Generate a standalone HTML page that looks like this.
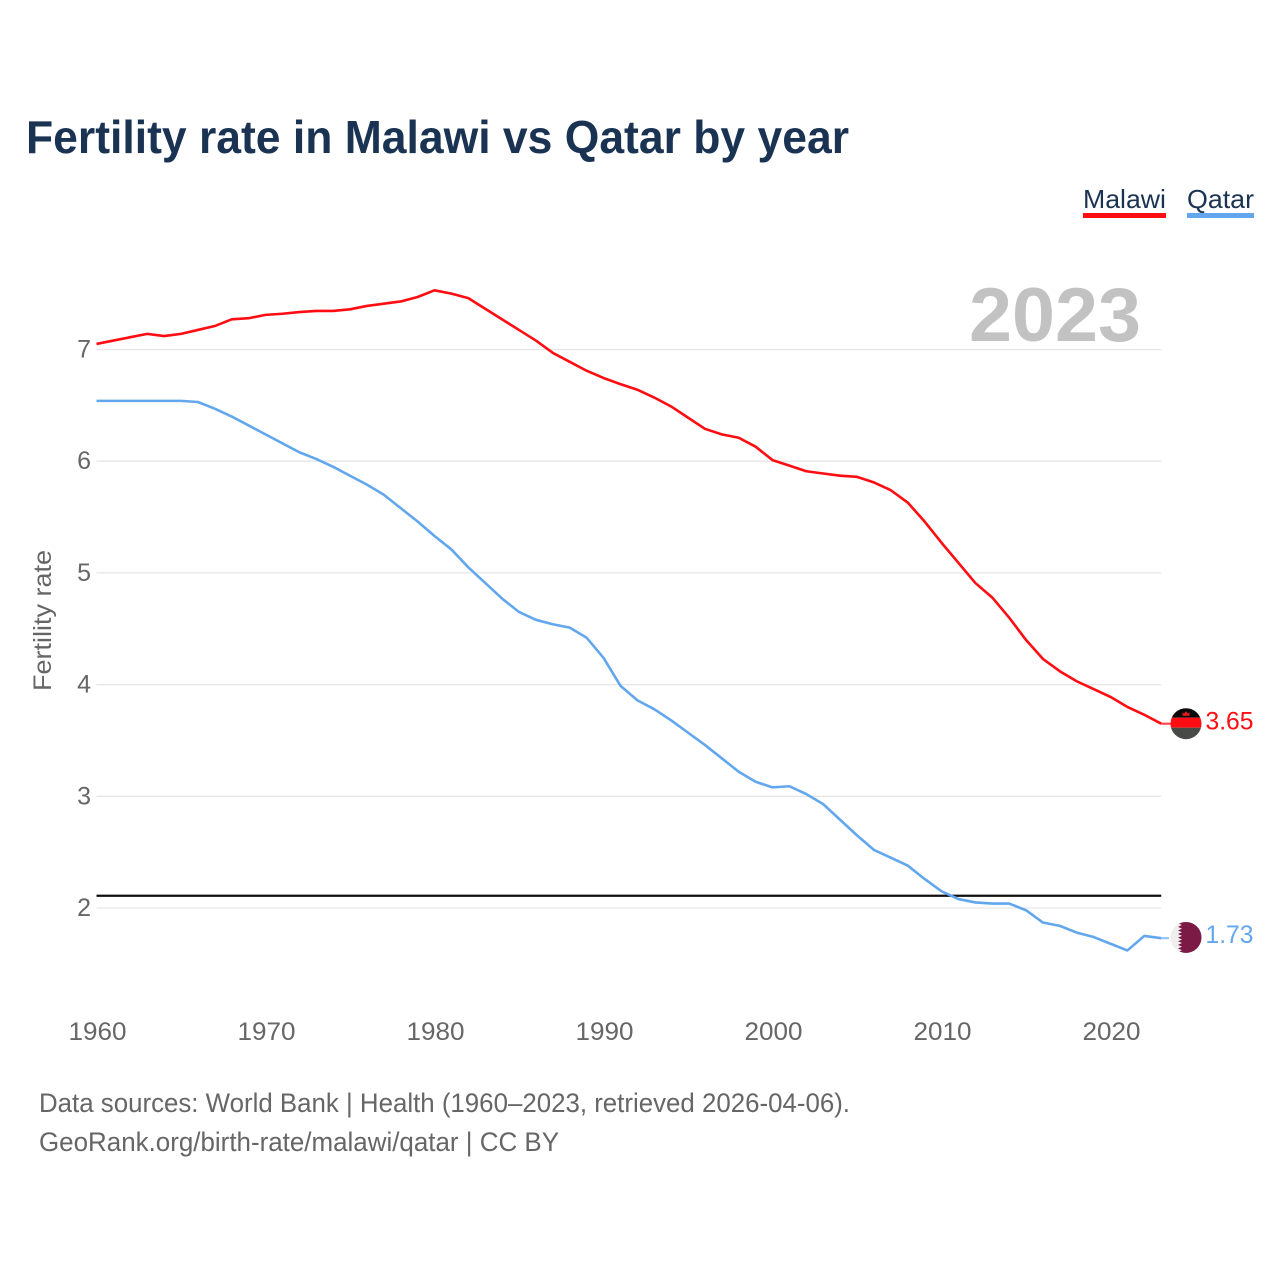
<!DOCTYPE html>
<html lang="en">
<head>
<meta charset="utf-8">
<title>Fertility rate in Malawi vs Qatar by year</title>
<style>
html,body{margin:0;padding:0;background:#fff;}
svg{display:block;font-family:"Liberation Sans",sans-serif;}
</style>
</head>
<body>
<svg id="chart" width="1280" height="1280" viewBox="0 0 1280 1280" xmlns="http://www.w3.org/2000/svg">
  <rect x="0" y="0" width="1280" height="1280" fill="#fff"/>
  <text x="26" y="153" font-size="46" font-weight="700" fill="#1a3353" textLength="823" lengthAdjust="spacingAndGlyphs">Fertility rate in Malawi vs Qatar by year</text>
  <text x="1083" y="208" font-size="26" fill="#1a3353" textLength="83" lengthAdjust="spacingAndGlyphs">Malawi</text>
  <rect x="1083" y="213" width="83" height="5" fill="#ff0d12"/>
  <text x="1187" y="208" font-size="26" fill="#1a3353" textLength="67" lengthAdjust="spacingAndGlyphs">Qatar</text>
  <rect x="1187" y="213" width="67" height="5" fill="#62a7ee"/>
  <text x="969" y="341" font-size="76" font-weight="700" fill="#c2c2c2" textLength="172" lengthAdjust="spacingAndGlyphs">2023</text>
  <text transform="translate(51,691) rotate(-90)" font-size="25" fill="#666" textLength="141" lengthAdjust="spacingAndGlyphs">Fertility rate</text>
  <g id="grid"></g>
  <g id="xticks"></g>
  <g id="series"></g>
  <text x="39" y="1112" font-size="27" fill="#666" textLength="811" lengthAdjust="spacingAndGlyphs">Data sources: World Bank | Health (1960–2023, retrieved 2026-04-06).</text>
  <text x="39" y="1151" font-size="27" fill="#666" textLength="520" lengthAdjust="spacingAndGlyphs">GeoRank.org/birth-rate/malawi/qatar | CC BY</text>
  <defs>
    <clipPath id="flag-clip"><circle cx="0" cy="0" r="15.5"/></clipPath>
  </defs>
</svg>
<script>
const startYear = 1960;
const malawiValues = [7.05,7.08,7.11,7.14,7.12,7.14,7.175,7.21,7.27,7.28,7.31,7.32,7.335,7.345,7.345,7.36,7.39,7.41,7.43,7.47,7.53,7.5,7.46,7.365,7.27,7.175,7.08,6.97,6.89,6.81,6.745,6.69,6.64,6.57,6.49,6.39,6.29,6.24,6.21,6.13,6.01,5.96,5.91,5.89,5.87,5.86,5.81,5.74,5.63,5.46,5.27,5.09,4.91,4.78,4.6,4.4,4.23,4.12,4.03,3.96,3.89,3.8,3.73,3.65];
const qatarValues = [6.54,6.54,6.54,6.54,6.54,6.54,6.53,6.47,6.4,6.32,6.24,6.16,6.08,6.02,5.95,5.87,5.79,5.7,5.58,5.46,5.33,5.21,5.05,4.91,4.77,4.65,4.58,4.54,4.51,4.42,4.24,3.99,3.86,3.78,3.68,3.57,3.46,3.34,3.22,3.13,3.08,3.09,3.02,2.93,2.79,2.65,2.52,2.45,2.38,2.26,2.15,2.08,2.05,2.04,2.04,1.98,1.87,1.84,1.78,1.74,1.68,1.62,1.75,1.73];
const yTicks = [2,3,4,5,6,7];
const xTicks = [1960,1970,1980,1990,2000,2010,2020];
const replacementRate = [2.11];
const malawiLabel = ["3.65"];
const qatarLabel = ["1.73"];

const NS = 'http://www.w3.org/2000/svg';
function xScale(year){ return 96.5 + (year - 1960) * 16.9; }
function yScale(v){ return 349.5 + (7 - v) * 111.7; }
function mk(tag, attrs, parent){
  const el = document.createElementNS(NS, tag);
  for (const k in attrs) el.setAttribute(k, attrs[k]);
  parent.appendChild(el);
  return el;
}
const grid = document.getElementById('grid');
const xAxis = document.getElementById('xticks');
const series = document.getElementById('series');
const x0 = xScale(startYear);
const x1 = xScale(startYear + malawiValues.length - 1);

yTicks.forEach(function(t){
  const line = mk('line', {x1:x0, x2:x1, y1:yScale(t), y2:yScale(t), stroke:'#e6e6e6', 'stroke-width':1.3}, grid);
  
  
  const label = mk('text', {x:91, y:yScale(t)+8, 'text-anchor':'end', 'font-size':25, fill:'#666'}, grid);
  
  
  label.textContent = t;
});

xTicks.forEach(function(t){
  const label = mk('text', {x:xScale(t)+1, y:1040, 'text-anchor':'middle', 'font-size':25, fill:'#666', textLength:58, lengthAdjust:'spacingAndGlyphs'}, xAxis);
  
  
  label.textContent = t;
});

const refLine = mk('line', {x1:x0, x2:x1, y1:yScale(replacementRate[0]), y2:yScale(replacementRate[0]), stroke:'#111', 'stroke-width':2.2}, series);



function pathFor(values){
  return values.map(function(v,i){
    return (i ? 'L' : 'M') + xScale(startYear + i).toFixed(2) + ' ' + yScale(v).toFixed(2);
  }).join(' ');
}

const malawiPath = mk('path', {d:pathFor(malawiValues), fill:'none', stroke:'#ff0d12', 'stroke-width':2.6, 'stroke-linejoin':'round'}, series);


const qatarPath = mk('path', {d:pathFor(qatarValues), fill:'none', stroke:'#62a7ee', 'stroke-width':2.6, 'stroke-linejoin':'round'}, series);



const mLast = malawiValues[malawiValues.length - 1];
const qLast = qatarValues[qatarValues.length - 1];
const mY = yScale(mLast);
const qY = yScale(qLast);

const mLead = mk('line', {x1:x1, x2:1171, y1:mY, y2:mY, stroke:'#ff0d12', 'stroke-width':2.2, opacity:0.75}, series);


const qLead = mk('line', {x1:x1, x2:1169, y1:qY, y2:qY, stroke:'#62a7ee', 'stroke-width':2.2, opacity:0.65}, series);



/* Malawi flag badge */
const mFlag = mk('g', {transform:'translate(1186,' + mY + ')', 'clip-path':'url(#flag-clip)'}, series);


mk('rect', {x:-16, y:-16, width:32, height:10, fill:'#0a0a0a'}, mFlag);
mk('rect', {x:-16, y:-6, width:32, height:10, fill:'#ff0d12'}, mFlag);
mk('rect', {x:-16, y:4, width:32, height:12, fill:'#474a46'}, mFlag);
mk('path', {d:'M-3.5 -8 L-3.5 -11.5 L-2 -10 L0 -12.5 L2 -10 L3.5 -11.5 L3.5 -8 Z', fill:'#f01a1a'}, mFlag);

/* Qatar flag badge */
const qFlag = mk('g', {transform:'translate(1186,' + (qY - 0.7) + ')', 'clip-path':'url(#flag-clip)'}, series);


mk('rect', {x:-16, y:-16, width:32, height:32, fill:'#efefef'}, qFlag);
mk('path', {d:'M16 -16 L-4 -16 L-8 -14.2 L-4 -12.4 L-8 -10.6 L-4 -8.8 L-8 -7 L-4 -5.2 L-8 -3.4 L-4 -1.6 L-8 0.2 L-4 2 L-8 3.8 L-4 5.6 L-8 7.4 L-4 9.2 L-8 11 L-4 12.8 L-8 14.6 L-4 16 L16 16 Z', fill:'#7a1a45'}, qFlag);

const mText = mk('text', {x:1205.5, y:mY + 6, 'font-size':25, fill:'#ff0d12', textLength:48, lengthAdjust:'spacingAndGlyphs'}, series);


mText.textContent = malawiLabel[0];
const qText = mk('text', {x:1205.5, y:qY + 5, 'font-size':25, fill:'#62a7ee', textLength:48, lengthAdjust:'spacingAndGlyphs'}, series);


qText.textContent = qatarLabel[0];
</script>
</body>
</html>
